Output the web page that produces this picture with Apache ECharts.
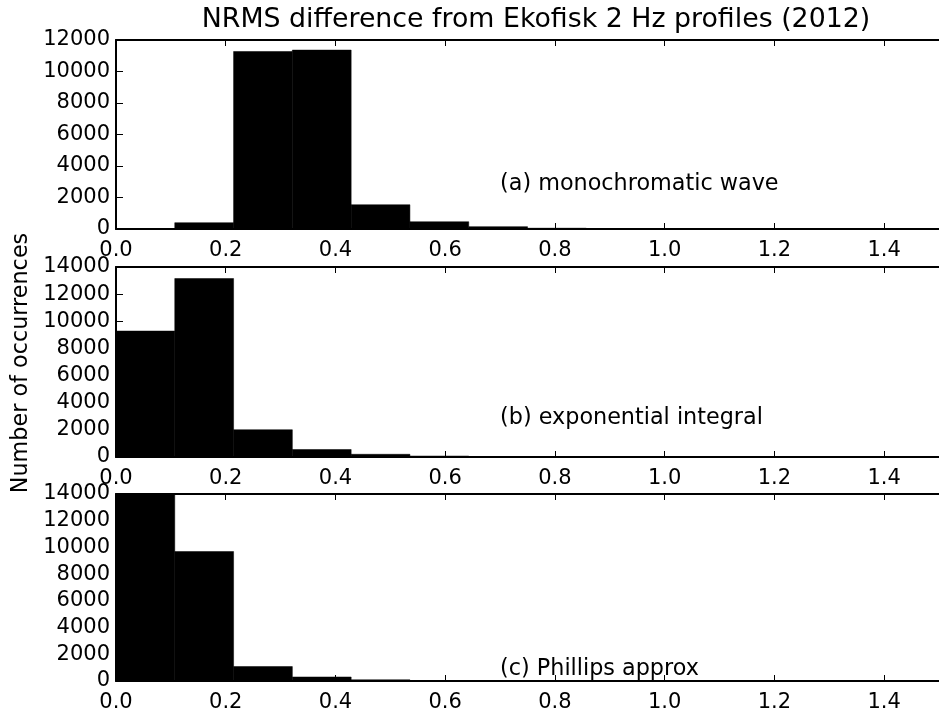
<!DOCTYPE html>
<html>
<head>
<meta charset="utf-8">
<script src="https://cdn.jsdelivr.net/npm/echarts@6/dist/echarts.min.js"></script>
<style>
html,body{margin:0;padding:0;background:#fff;}
#chart{width:939px;height:713px;}
</style>
</head>
<body>
<div id="chart"></div>
<script>
// ---- data ----
const titleText = 'NRMS difference from Ekofisk 2 Hz profiles (2012)';
const yLabelText = 'Number of occurrences';
const binEdges = [0, 0.1071, 0.2143, 0.3214, 0.4286, 0.5357, 0.6429, 0.75, 0.8571, 0.9643, 1.0714, 1.1786, 1.2857, 1.3929, 1.5];
const countsA = [0, 400, 11270, 11360, 1540, 460, 150, 50, 10, 0, 0, 0, 0, 0];
const countsB = [9280, 13150, 2010, 550, 200, 70, 20, 5, 0, 0, 0, 0, 0, 0];
const countsC = [13950, 9690, 1080, 300, 90, 25, 5, 0, 0, 0, 0, 0, 0, 0];
const panelLabels = ['(a) monochromatic wave', '(b) exponential integral', '(c) Phillips approx'];
const panelLabelPos = [[0.7, 2500], [0.7, 2500], [0.7, 500]];
const yMax = [12000, 14000, 14000];
const xTicks = {min: 0, max: 1.5, interval: 0.2};
const yInterval = 2000;

const FONT = 'DejaVu Sans';
const chart = echarts.init(document.getElementById('chart'), null, {renderer: 'canvas'});

const grids = [
  {left: 116, top: 40, width: 834, height: 189},
  {left: 116, top: 267, width: 834, height: 190},
  {left: 116, top: 494, width: 834, height: 191}
];

const xAxes = [];
const yAxes = [];
const series = [];
const allCounts = [countsA, countsB, countsC];

grids.forEach((g, i) => {
  xAxes.push({
    type: 'value', gridIndex: i, position: 'bottom',
    min: xTicks.min, max: xTicks.max, interval: xTicks.interval,
    axisLine: {show: true, onZero: false, lineStyle: {color: '#000', width: 2}},
    axisTick: {show: true, inside: true, length: 6, lineStyle: {color: '#000', width: 1}},
    axisLabel: {show: true, margin: 11, color: '#000', fontSize: 21, fontFamily: FONT,
      showMaxLabel: false, formatter: v => v.toFixed(1)},
    splitLine: {show: false}
  });
  xAxes.push({
    type: 'value', gridIndex: i, position: 'top',
    min: xTicks.min, max: xTicks.max, interval: xTicks.interval,
    axisLine: {show: true, onZero: false, lineStyle: {color: '#000', width: 2}},
    axisTick: {show: true, inside: true, length: 6, lineStyle: {color: '#000', width: 1}},
    axisLabel: {show: false},
    splitLine: {show: false}
  });
  yAxes.push({
    type: 'value', gridIndex: i, min: 0, max: yMax[i], interval: yInterval,
    axisLine: {show: true, onZero: false, lineStyle: {color: '#000', width: 2}},
    axisTick: {show: true, inside: true, length: 7, lineStyle: {color: '#000', width: 1}},
    axisLabel: {show: true, margin: 6, color: '#000', fontSize: 21, fontFamily: FONT,
      formatter: v => String(v)},
    splitLine: {show: false}
  });
  const data = allCounts[i].map((c, k) => [binEdges[k], binEdges[k + 1], c]);
  series.push({
    type: 'custom', xAxisIndex: i * 2, yAxisIndex: i,
    data: data,
    encode: {x: [0, 1], y: 2},
    clip: true,
    renderItem: function (params, api) {
      const p0 = api.coord([api.value(0), api.value(2)]);
      const p1 = api.coord([api.value(1), 0]);
      return {
        type: 'rect',
        shape: {x: p0[0], y: p0[1], width: p1[0] - p0[0], height: p1[1] - p0[1]},
        style: {fill: '#000', stroke: '#000', lineWidth: 0.5}
      };
    },
    z: 1
  });
});

chart.setOption({
  animation: false,
  backgroundColor: '#fff',
  grid: grids,
  xAxis: xAxes,
  yAxis: yAxes,
  series: series
});

const graphics = [
  {type: 'text', x: 536, y: 20, style: {text: titleText, fontSize: 26.8, fontFamily: FONT, fill: '#000', align: 'center', verticalAlign: 'middle'}},
  {type: 'text', x: 21, y: 363, rotation: Math.PI / 2, style: {text: yLabelText, fontSize: 22.3, fontFamily: FONT, fill: '#000', align: 'center', verticalAlign: 'middle'}}
];
panelLabels.forEach((t, i) => {
  const px = chart.convertToPixel({xAxisIndex: i * 2, yAxisIndex: i}, panelLabelPos[i]);
  graphics.push({type: 'text', x: px[0], y: px[1] + 6, style: {text: t, fontSize: 22.3, fontFamily: FONT, fill: '#000', align: 'left', verticalAlign: 'bottom'}});
});
chart.setOption({graphic: graphics});
</script>
</body>
</html>
